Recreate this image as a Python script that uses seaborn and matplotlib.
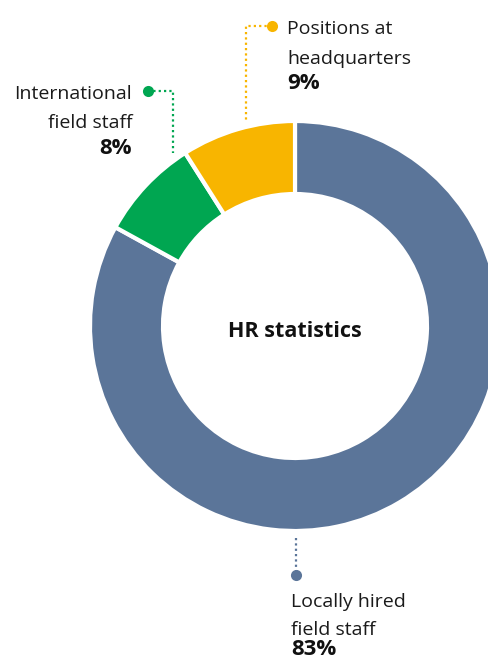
import matplotlib
matplotlib.use("Agg")
import matplotlib.pyplot as plt
import seaborn as sns

# data
categories = ["Locally hired field staff", "International field staff", "Positions at headquarters"]
label_lines = [["Locally hired", "field staff"], ["International", "field staff"], ["Positions at", "headquarters"]]
shares = [83, 8, 9]
colors = ["#5B7599", "#00A651", "#F8B500"]
center_title = "HR statistics"

sns.set_theme(style="white")
plt.rcParams["font.family"] = ["Open Sans", "DejaVu Sans"]

W, H = 489, 663
fig = plt.figure(figsize=(W / 100, H / 100), dpi=100)
ax = fig.add_axes([0, 0, 1, 1])


def Y(py):
    # pixel row (from top) -> data y
    return H - py


CX, CY, R, RIN = 295, 326, 205, 132
ax.pie(shares, colors=colors, startangle=90, counterclock=False,
       center=(CX, Y(CY)), radius=R, frame=True,
       wedgeprops=dict(width=R - RIN, edgecolor="white", linewidth=3))
ax.set_xlim(0, W)
ax.set_ylim(0, H)
ax.set_aspect("equal")
ax.axis("off")

ax.text(CX, Y(337), center_title, ha="center", va="baseline",
        fontsize=15.5, fontweight="bold", color="#111111")

# leader lines: (path in px, dot position, text x, align, baselines)
leaders = {
    0: dict(path=[(296, 538), (296, 572)], dot=(296, 575), tx=291, ha="left",
            base=[607, 635, 655]),
    1: dict(path=[(148, 91), (173, 91), (173, 153)], dot=(148, 91), tx=132, ha="right",
            base=[99, 128, 154]),
    2: dict(path=[(272, 26), (246, 26), (246, 120)], dot=(272, 26), tx=287, ha="left",
            base=[34, 64, 89]),
}
dots = (0, (1, 1.4))
for i, lab in enumerate(label_lines):
    d = leaders[i]
    xs = [p[0] for p in d["path"]]
    ys = [Y(p[1]) for p in d["path"]]
    ax.plot(xs, ys, color=colors[i], lw=1.6, ls=dots)
    ax.plot(d["dot"][0], Y(d["dot"][1]), "o", ms=8, color=colors[i], mew=0)
    for line, b in zip(lab, d["base"][:2]):
        ax.text(d["tx"], Y(b), line, ha=d["ha"], va="baseline", fontsize=14,
                color="#1a1a1a")
    ax.text(d["tx"], Y(d["base"][2]), f"{shares[i]}%", ha=d["ha"], va="baseline",
            fontsize=16, fontweight="bold", color="#111111")

fig.savefig("out.png", dpi=100)
